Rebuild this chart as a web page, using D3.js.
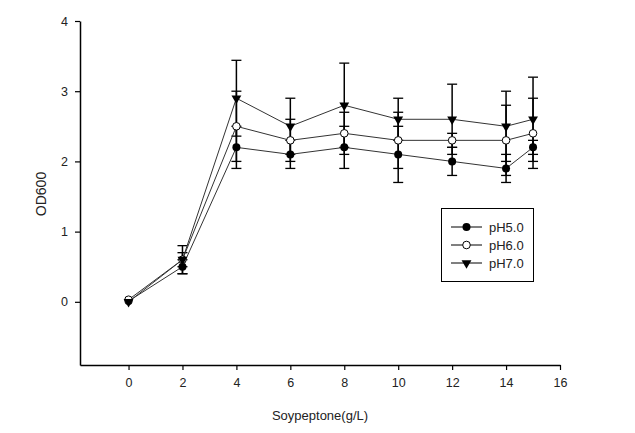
<!DOCTYPE html>
<html>
<head>
<meta charset="utf-8">
<script src="https://cdn.jsdelivr.net/npm/d3@7"></script>
<style>
  html, body { margin: 0; padding: 0; background: #fff; }
  svg { display: block; font-family: "Liberation Sans", Arial, sans-serif; }
</style>
</head>
<body>
<svg id="chart" width="635" height="433"></svg>
<script>
const xValues = [0, 2, 4, 6, 8, 10, 12, 14, 15];
const seriesNames = ["pH5.0", "pH6.0", "pH7.0"];
const ph5 = [0.01, 0.5, 2.2, 2.1, 2.2, 2.1, 2.0, 1.9, 2.2];
const ph6 = [0.03, 0.6, 2.5, 2.3, 2.4, 2.3, 2.3, 2.3, 2.4];
const ph7 = [0.0, 0.6, 2.9, 2.5, 2.8, 2.6, 2.6, 2.5, 2.6];
const err5 = [0, 0.1, 0.3, 0.2, 0.3, 0.4, 0.2, 0.2, 0.1];
const err6 = [0, 0.1, 0.5, 0.3, 0.3, 0.4, 0.1, 0.5, 0.5];
const err7 = [0, 0.2, 0.54, 0.4, 0.6, 0.3, 0.5, 0.5, 0.6];
const xTicks = [0, 2, 4, 6, 8, 10, 12, 14, 16];
const yTicks = [0, 1, 2, 3, 4];
const xTitle = "Soypeptone(g/L)";
const yTitle = "OD600";

const svg = d3.select("#chart");
const x = d3.scaleLinear().domain([-1.8, 16]).range([80, 560]);
const y = d3.scaleLinear().domain([-0.9, 4]).range([365, 21]);

const series = [
  { name: seriesNames[0], vals: ph5, errs: err5, marker: "filled" },
  { name: seriesNames[1], vals: ph6, errs: err6, marker: "open" },
  { name: seriesNames[2], vals: ph7, errs: err7, marker: "tri" }
];

// Axes
const xAxis = d3.axisBottom(x).tickValues(xTicks).tickFormat(d3.format("d"))
  .tickSize(5).tickPadding(8).tickSizeOuter(0);
const yAxis = d3.axisLeft(y).tickValues(yTicks).tickFormat(d3.format("d"))
  .tickSize(5).tickPadding(7).tickSizeOuter(0);

const gx = svg.append("g").attr("transform", `translate(0,${y.range()[0]})`).call(xAxis);
const gy = svg.append("g").attr("transform", `translate(${x.range()[0]},0)`).call(yAxis);
[gx, gy].forEach(g => {
  g.select(".domain").attr("stroke", "#000").attr("stroke-width", 1.5);
  g.selectAll(".tick line").attr("stroke", "#000").attr("stroke-width", 1.2);
  g.selectAll(".tick text").attr("fill", "#222").style("font-size", "12.5px")
    .style("font-family", '"Liberation Sans", Arial, sans-serif');
});

svg.append("text").attr("x", 320).attr("y", 420).attr("text-anchor", "middle")
  .attr("fill", "#222").style("font-size", "13px").text(xTitle);
svg.append("text").attr("transform", "translate(46,194) rotate(-90)").attr("text-anchor", "middle")
  .attr("fill", "#222").style("font-size", "14px").text(yTitle);

const capW = 5;
// Error bars
series.forEach(s => {
  const g = svg.append("g");
  xValues.forEach((xv, i) => {
    const e = s.errs[i];
    if (!e) return;
    const cx = x(xv), y1 = y(s.vals[i] + e), y2 = y(s.vals[i] - e);
    g.append("line").attr("x1", cx).attr("x2", cx).attr("y1", y1).attr("y2", y2)
      .attr("stroke", "#000").attr("stroke-width", 1.5);
    [y1, y2].forEach(yy => g.append("line").attr("x1", cx - capW).attr("x2", cx + capW)
      .attr("y1", yy).attr("y2", yy).attr("stroke", "#000").attr("stroke-width", 1.3));
  });
});

// Lines
const line = d3.line().x((d, i) => x(xValues[i])).y(d => y(d));
series.forEach(s => {
  svg.append("path").attr("d", line(s.vals)).attr("fill", "none")
    .attr("stroke", "#333").attr("stroke-width", 1);
});

function drawMarker(g, type, cx, cy) {
  if (type === "filled") {
    g.append("circle").attr("cx", cx).attr("cy", cy).attr("r", 4).attr("fill", "#000");
  } else if (type === "open") {
    g.append("circle").attr("cx", cx).attr("cy", cy).attr("r", 3.8).attr("fill", "#fff")
      .attr("stroke", "#000").attr("stroke-width", 1);
  } else {
    g.append("path").attr("d", d3.symbol().type(d3.symbolTriangle).size(42)())
      .attr("transform", `translate(${cx},${cy}) rotate(180)`).attr("fill", "#000");
  }
}

series.forEach(s => {
  const g = svg.append("g");
  xValues.forEach((xv, i) => drawMarker(g, s.marker, x(xv), y(s.vals[i])));
});

// Legend
const lg = svg.append("g");
lg.append("rect").attr("x", 441.5).attr("y", 208.5).attr("width", 92).attr("height", 73)
  .attr("fill", "#fff").attr("stroke", "#000").attr("stroke-width", 1);
series.forEach((s, i) => {
  const ly = 227 + i * 18;
  lg.append("line").attr("x1", 451).attr("x2", 482).attr("y1", ly).attr("y2", ly)
    .attr("stroke", "#000").attr("stroke-width", 1);
  drawMarker(lg, s.marker, 466.5, ly);
  lg.append("text").attr("x", 489).attr("y", ly + 4.5).attr("fill", "#222")
    .style("font-size", "13px").text(s.name);
});
</script>
</body>
</html>
